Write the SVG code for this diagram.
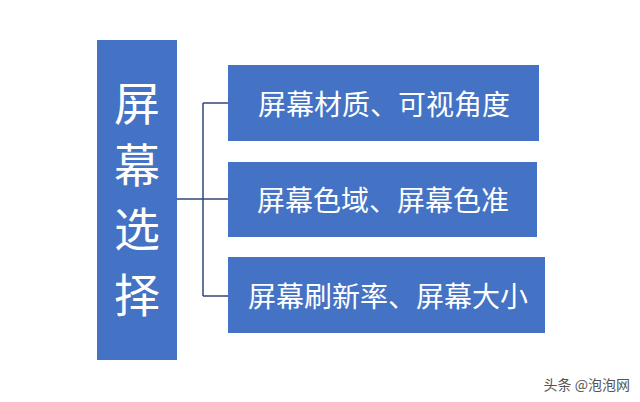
<svg xmlns="http://www.w3.org/2000/svg" width="640" height="402" viewBox="0 0 640 402">
<style>
.b{fill:#4472C4}
.t{fill:#fff;font-family:"Noto Sans CJK SC",sans-serif;font-size:28px;text-anchor:middle;dominant-baseline:central}
.m{fill:#fff;font-family:"Noto Sans CJK SC",sans-serif;font-size:46px;text-anchor:middle;dominant-baseline:central}
.c{stroke:#2F4A7A;stroke-width:1.5;fill:none}
</style>
<rect width="640" height="402" fill="#fff"/>
<g id="root"><rect class="b" x="97" y="40" width="80" height="320"/>
<text class="m" x="137" y="100">屏</text><text class="m" x="137" y="162">幕</text><text class="m" x="137" y="226">选</text><text class="m" x="137" y="292">择</text></g>
<g id="n1"><rect class="b" x="228" y="65" width="311" height="76"/><text class="t" x="384" y="103">屏幕材质、可视角度</text></g>
<g id="n2"><rect class="b" x="228" y="162" width="309" height="75"/><text class="t" x="383" y="199">屏幕色域、屏幕色准</text></g>
<g id="n3"><rect class="b" x="228" y="257" width="317" height="76"/><text class="t" x="388" y="295">屏幕刷新率、屏幕大小</text></g>
<g id="connectors"><path class="c" d="M177 199H228M203 103V296M203 103H228M203 296H228"/></g>
<text x="630" y="390" font-family="Noto Sans CJK SC,sans-serif" font-size="14" fill="#555" text-anchor="end">头条 @泡泡网</text>
</svg>
